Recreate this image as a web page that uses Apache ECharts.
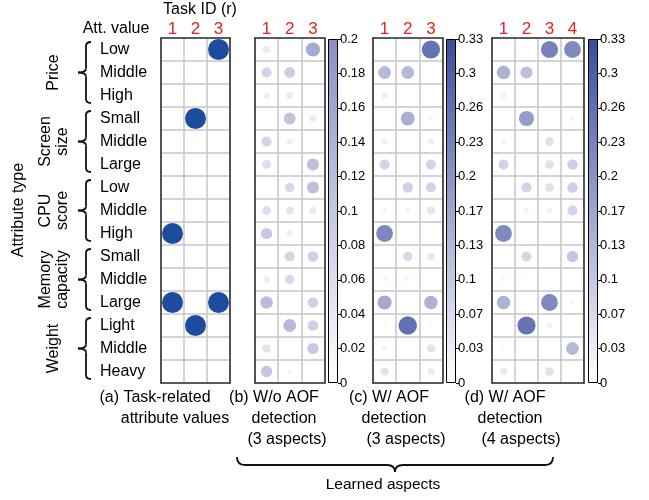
<!DOCTYPE html>
<html><head><meta charset="utf-8">
<script src="https://cdn.jsdelivr.net/npm/echarts@6/dist/echarts.min.js"></script>
<style>html,body{margin:0;padding:0;background:#fff}#c{width:649px;height:500px}</style>
</head><body><div id="c"></div>
<script>
// ---------- data ----------
const rowLabels = ['Low','Middle','High','Small','Middle','Large','Low','Middle','High','Small','Middle','Large','Light','Middle','Heavy'];
const groupLabels = ['Price','Screen\nsize','CPU\nscore','Memory\ncapacity','Weight'];
const tasks3 = ['1','2','3'];
const tasks4 = ['1','2','3','4'];
// (a) task-related attribute values (rows x tasks)
const aValues = [
  [0,0,1],[0,0,0],[0,0,0],
  [0,1,0],[0,0,0],[0,0,0],
  [0,0,0],[0,0,0],[1,0,0],
  [0,0,0],[0,0,0],[1,0,1],
  [0,1,0],[0,0,0],[0,0,0]
];
// (b) W/o AOF detection (3 aspects)
const bValues = [
  [0.050,0,0.194],[0.100,0.112,0.002],[0.037,0.045,0.002],
  [0.002,0.134,0.045],[0.100,0.037,0],[0.075,0,0.143],
  [0.001,0.087,0.143],[0.075,0.059,0.050],[0.121,0.037,0],
  [0.003,0.100,0.106],[0.041,0.087,0],[0.151,0,0.106],
  [0.003,0.158,0.106],[0.065,0,0.121],[0.127,0.026,0.002]
];
// (c) W/ AOF detection (3 aspects)
const cValues = [
  [0.003,0.003,0.320],[0.158,0.158,0.001],[0.037,0.002,0],
  [0.002,0.184,0.020],[0.037,0.008,0.037],[0.100,0,0.100],
  [0,0.106,0.100],[0.020,0.026,0.059],[0.272,0,0.001],
  [0.012,0.087,0.054],[0.022,0.022,0],[0.194,0,0.176],
  [0.017,0.330,0.017],[0.026,0,0.065],[0.065,0.003,0.045]
];
// (d) W/ AOF detection (4 aspects)
const dValues = [
  [0.002,0.002,0.285,0.272],[0.176,0.143,0.006,0],[0.029,0.001,0,0.002],
  [0.002,0.223,0.004,0.026],[0.026,0.006,0.070,0.001],[0.100,0.001,0.070,0.106],
  [0.002,0.100,0.070,0.106],[0.006,0.026,0.029,0.100],[0.272,0.001,0.001,0.006],
  [0.002,0.093,0.001,0.127],[0.020,0.017,0,0.001],[0.176,0.001,0.272,0.022],
  [0.009,0.320,0.029,0],[0.017,0,0,0.158],[0.050,0.002,0.070,0]
];
// colorbar tick labels
const cbTicksB = ['0','0.02','0.04','0.06','0.08','0.1','0.12','0.14','0.16','0.18','0.2'];
const cbTicksCD = ['0','0.03','0.07','0.1','0.13','0.17','0.2','0.23','0.26','0.3','0.33'];
const cbMaxB = 0.2, cbMaxCD = 0.33;
const panelCaptions = [
  ['(a) Task-related','attribute values'],
  ['(b) W/o AOF','detection','(3 aspects)'],
  ['(c) W/ AOF','detection','(3 aspects)'],
  ['(d) W/ AOF','detection','(4 aspects)']
];

// ---------- layout / style ----------
const FONT = '"Liberation Sans", Arial, Helvetica, sans-serif';
const TOP = 38, H = 345, ROWH = H / 15;
const RED = '#e8221f';
const DARK_A = '#1d4b9d';
const DARK = '#3b4c9e';
const MID_B = '#8a90c6';
const rowIds = rowLabels.map((_, i) => String(i));

const grids = [
  {left:161, top:TOP, width:69, height:H},
  {left:255, top:TOP, width:69.5, height:H},
  {left:373, top:TOP, width:69.5, height:H},
  {left:492, top:TOP, width:92, height:H},
  {left:328, top:TOP+1, width:10, height:H-1},
  {left:446, top:TOP+1, width:10, height:H-1},
  {left:588, top:TOP+1, width:10, height:H-1}
].map(g => Object.assign({show:false, containLabel:false}, g));

const panelCols = [tasks3, tasks3, tasks3, tasks4];
const xAxes = [], yAxes = [];
// main axes (indices 0..3)
panelCols.forEach((cols, gi) => {
  xAxes.push({gridIndex:gi, type:'category', position:'top', data:cols, z:0,
    axisLine:{show:false}, axisTick:{show:false},
    axisLabel:{color:RED, fontSize:17, fontFamily:FONT, margin:0},
    splitLine:{show:true, lineStyle:{color:'#c6c6c6', width:1.5}}});
  yAxes.push({gridIndex:gi, type:'category', inverse:true, data:rowIds, z:0,
    axisLine:{show:false}, axisTick:{show:false},
    axisLabel:{show: gi === 0, align:'left', margin:61, color:'#000', fontSize:16, fontFamily:FONT,
      formatter:(v, i) => rowLabels[i]},
    splitLine:{show:true, lineStyle:{color:'#c6c6c6', width:1.5}}});
});
// colorbar axes (indices 4..6)
const cbDefs = [
  {gi:4, max:cbMaxB, ticks:cbTicksB, top:MID_B},
  {gi:5, max:cbMaxCD, ticks:cbTicksCD, top:DARK},
  {gi:6, max:cbMaxCD, ticks:cbTicksCD, top:DARK}
];
cbDefs.forEach(cb => {
  xAxes.push({gridIndex:cb.gi, type:'category', data:['cb'], show:false});
  yAxes.push({gridIndex:cb.gi, type:'value', position:'right', min:0, max:cb.max, interval:cb.max/10,
    axisLine:{show:false}, splitLine:{show:false},
    axisTick:{show:true, length:3, lineStyle:{color:'#000', width:1}},
    axisLabel:{margin:2, color:'#000', fontSize:13, fontFamily:FONT,
      formatter:v => cb.ticks[Math.round(v / (cb.max/10))]}});
});
// frame axes (outer dark border of each panel), drawn above split lines
panelCols.forEach((cols, gi) => {
  ['top','bottom'].forEach(pos => xAxes.push({gridIndex:gi, type:'category', position:pos, data:cols, z:5,
    axisLine:{show:true, lineStyle:{color:'#333', width:1.6}}, axisTick:{show:false}, axisLabel:{show:false}, splitLine:{show:false}}));
  ['left','right'].forEach(pos => yAxes.push({gridIndex:gi, type:'category', position:pos, inverse:true, data:rowIds, z:5,
    axisLine:{show:true, lineStyle:{color:'#333', width:1.6}}, axisTick:{show:false}, axisLabel:{show:false}, splitLine:{show:false}}));
});

function toData(mat) {
  const out = [];
  mat.forEach((row, r) => row.forEach((v, c) => { if (v > 0) out.push([c, r, v]); }));
  return out;
}
const K = 32.2; // symbol diameter per sqrt(value)
const series = [
  {type:'scatter', xAxisIndex:0, yAxisIndex:0, data:toData(aValues), symbolSize:21,
   itemStyle:{color:DARK_A, opacity:1}, silent:true},
  {type:'scatter', xAxisIndex:1, yAxisIndex:1, data:toData(bValues), symbolSize:d => K*Math.sqrt(d[2]), silent:true},
  {type:'scatter', xAxisIndex:2, yAxisIndex:2, data:toData(cValues), symbolSize:d => K*Math.sqrt(d[2]), silent:true},
  {type:'scatter', xAxisIndex:3, yAxisIndex:3, data:toData(dValues), symbolSize:d => K*Math.sqrt(d[2]), silent:true}
];
cbDefs.forEach((cb, i) => {
  series.push({type:'bar', xAxisIndex:4+i, yAxisIndex:4+i, data:[cb.max], barWidth:'100%', silent:true,
    itemStyle:{color:new echarts.graphic.LinearGradient(0,0,0,1,[{offset:0,color:cb.top},{offset:1,color:'#ffffff'}]),
      borderColor:'#000', borderWidth:1}});
});
const visualMap = [
  {type:'continuous', show:false, seriesIndex:1, dimension:2, min:0, max:cbMaxB, inRange:{color:['#ffffff', MID_B]}},
  {type:'continuous', show:false, seriesIndex:2, dimension:2, min:0, max:cbMaxCD, inRange:{color:['#ffffff', DARK]}},
  {type:'continuous', show:false, seriesIndex:3, dimension:2, min:0, max:cbMaxCD, inRange:{color:['#ffffff', DARK]}}
];

// ---------- annotations ----------
const graphic = [];
const txt = (text, x, y, opt) => graphic.push(Object.assign({type:'text', x, y, silent:true,
  style:Object.assign({text, fill:'#000', font:'16px ' + FONT, align:'center', verticalAlign:'middle'}, (opt||{}).style||{})},
  (opt||{}).rot ? {rotation:opt.rot} : {}));
const line = (x1,y1,x2,y2) => graphic.push({type:'line', silent:true, shape:{x1,y1,x2,y2}, style:{stroke:'#111', lineWidth:1.8}});
const quad = (x1,y1,cx,cy,x2,y2) => graphic.push({type:'bezierCurve', silent:true, shape:{x1,y1,x2,y2,cpx1:cx,cpy1:cy}, style:{stroke:'#111', lineWidth:1.8, fill:null}});

txt('Task ID (r)', 200, 10);
txt('Att. value', 116, 29);
txt('Attribute type', 19, 210, {rot:Math.PI/2});
groupLabels.forEach((g, i) => {
  const yc = TOP + ROWH*(3*i + 1.5);
  txt(g, 54, yc, {rot:Math.PI/2, style:{lineHeight:17}});
  const yT = TOP + ROWH*3*i + 4, yB = TOP + ROWH*3*(i+1) - 4, yM = yc;
  const x0 = 86, xt = 78, xe = 91, r = 4;
  quad(xe, yT, x0, yT, x0, yT + r);
  line(x0, yT + r, x0, yM - r);
  quad(x0, yM - r, x0, yM, xt, yM);
  quad(xt, yM, x0, yM, x0, yM + r);
  line(x0, yM + r, x0, yB - r);
  quad(x0, yB - r, x0, yB, xe, yB);
});
// captions
const capX = [[155,175],[274,284,287],[389,394,406],[505,510,521]];
const capY = [398, 419, 440];
panelCaptions.forEach((lines, p) => lines.forEach((l, j) => txt(l, capX[p][j], capY[j], {style:{font:'16px ' + FONT}})));
// big horizontal brace
(function(){
  const xl = 237, xr = 553, xm = 395, yE = 457, yS = 465, yTip = 472, r = 8;
  quad(xl, yE, xl, yS, xl + r, yS);
  line(xl + r, yS, xm - r, yS);
  quad(xm - r, yS, xm, yS, xm, yTip);
  quad(xm, yTip, xm, yS, xm + r, yS);
  line(xm + r, yS, xr - r, yS);
  quad(xr - r, yS, xr, yS, xr, yE);
})();
txt('Learned aspects', 383, 485, {style:{font:'15.5px ' + FONT}});

const chart = echarts.init(document.getElementById('c'), null, {renderer:'canvas'});
chart.setOption({animation:false, grid:grids, xAxis:xAxes, yAxis:yAxes, series, visualMap, graphic});
</script></body></html>
